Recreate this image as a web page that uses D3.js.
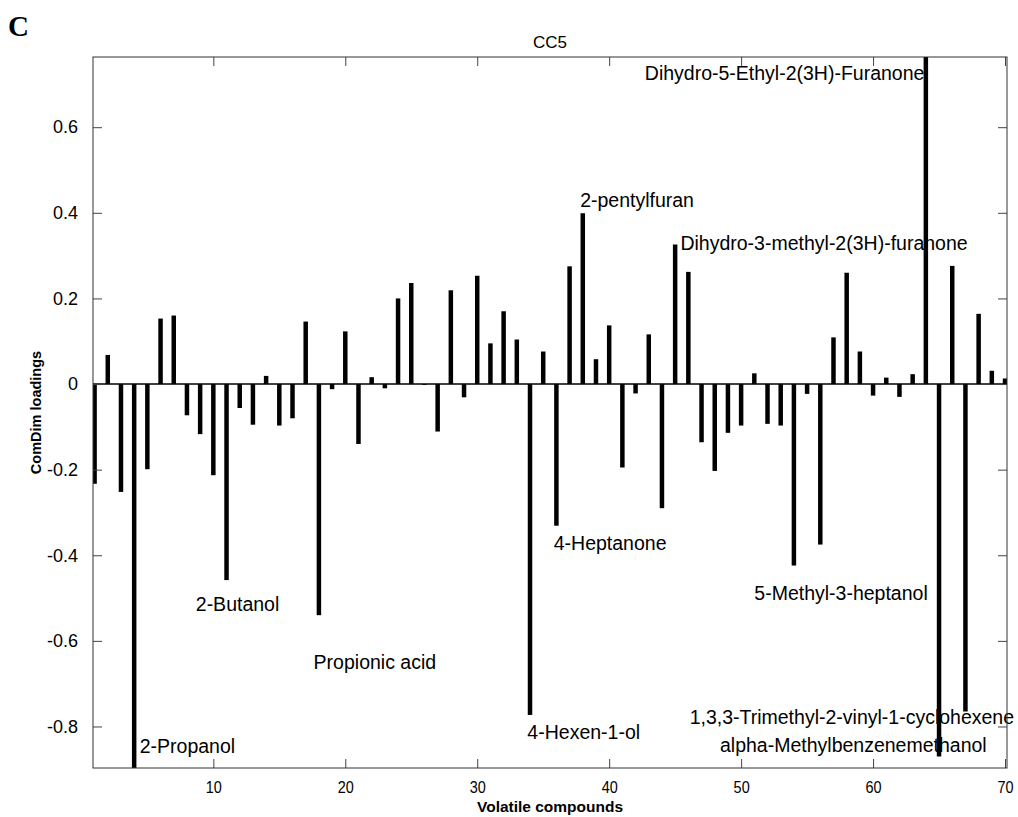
<!DOCTYPE html>
<html><head><meta charset="utf-8">
<script src="https://cdn.jsdelivr.net/npm/d3@7"></script>
<style>
html,body{margin:0;padding:0;background:#fff;}
svg{display:block;}
text{font-family:"Liberation Sans",Arial,Helvetica,sans-serif;fill:#000;}
</style></head>
<body>
<svg id="chart" width="1018" height="817"></svg>
<script>
// ---- data ----
const compoundIndex = d3.range(1, 71);
const loadings = [
  -0.233, 0.068, -0.252, -0.897, -0.199, 0.153, 0.160, -0.073, -0.117, -0.213,
  -0.458, -0.056, -0.095, 0.019, -0.097, -0.080, 0.146, -0.540, -0.012, 0.123,
  -0.140, 0.016, -0.010, 0.200, 0.236, -0.002, -0.111, 0.219, -0.031, 0.253,
  0.095, 0.170, 0.104, -0.773, 0.076, -0.331, 0.275, 0.399, 0.058, 0.137,
  -0.195, -0.022, 0.116, -0.290, 0.326, 0.262, -0.136, -0.203, -0.114, -0.097,
  0.025, -0.093, -0.097, -0.424, -0.023, -0.375, 0.109, 0.260, 0.076, -0.027,
  0.015, -0.030, 0.023, 0.764, -0.870, 0.276, -0.765, 0.164, 0.031, 0.013
];
const xTicks = [10, 20, 30, 40, 50, 60, 70];
const yTicks = [-0.8, -0.6, -0.4, -0.2, 0, 0.2, 0.4, 0.6];
const yTickLabels = ["-0.8", "-0.6", "-0.4", "-0.2", "0", "0.2", "0.4", "0.6"];
// annotation labels (text anchored at data coordinates)
const labelTexts = ["2-Propanol", "2-Butanol", "Propionic acid", "4-Hexen-1-ol", "4-Heptanone",
  "2-pentylfuran", "Dihydro-3-methyl-2(3H)-furanone", "Dihydro-5-Ethyl-2(3H)-Furanone",
  "5-Methyl-3-heptanol", "1,3,3-Trimethyl-2-vinyl-1-cyclohexene", "alpha-Methylbenzenemethanol"];
const labelX = [4.42, 8.67, 17.6, 33.8, 35.8, 37.8, 45.4, 42.7, 51.0, 46.1, 48.4];
const labelY = [-0.846, -0.514, -0.650, -0.813, -0.371, 0.430, 0.329, 0.727, -0.488, -0.778, -0.843];
const titleText = "CC5";
const xLabel = "Volatile compounds";
const yLabel = "ComDim  loadings";
const panelLabel = "C";

// ---- layout ----
const L = 93, R = 1007, T = 57, B = 768;
const svg = d3.select("#chart");
const x = d3.scaleLinear().domain([0.88, 70.15]).range([L, R]);
const y = d3.scaleLinear().domain([d3.min(loadings), d3.max(loadings)]).range([B, T]);

svg.append("defs").append("clipPath").attr("id", "clip")
  .append("rect").attr("x", L).attr("y", T).attr("width", R - L).attr("height", B - T);

// annotation text (under bars, not clipped)
svg.append("g").selectAll("text.ann").data(labelTexts).enter().append("text")
  .attr("class", "ann")
  .attr("x", (d, i) => x(labelX[i]))
  .attr("y", (d, i) => y(labelY[i]))
  .attr("dy", "0.35em")
  .style("font-size", "19.5px")
  .text(d => d);

const plot = svg.append("g").attr("clip-path", "url(#clip)");

// zero line
plot.append("line").attr("x1", L).attr("x2", R).attr("y1", y(0)).attr("y2", y(0))
  .attr("stroke", "#000").attr("stroke-width", 1.5);

// bars
const hw = 0.17;
plot.selectAll("rect.bar").data(loadings).enter().append("rect")
  .attr("class", "bar")
  .attr("x", (d, i) => x(compoundIndex[i] - hw))
  .attr("width", (d, i) => x(compoundIndex[i] + hw) - x(compoundIndex[i] - hw))
  .attr("y", d => Math.min(y(d), y(0)))
  .attr("height", d => Math.abs(y(d) - y(0)))
  .attr("fill", "#000");

// axes (ticks inward)
const tickLen = 9;
const axCol = "#444";
const gB = svg.append("g").attr("transform", `translate(0,${B})`)
  .call(d3.axisBottom(x).tickValues(xTicks).tickSizeInner(-tickLen).tickSizeOuter(0).tickPadding(tickLen + 4).tickFormat(d3.format("d")));
const gT = svg.append("g").attr("transform", `translate(0,${T})`)
  .call(d3.axisTop(x).tickValues(xTicks).tickSizeInner(-tickLen).tickSizeOuter(0).tickFormat(""));
const gL = svg.append("g").attr("transform", `translate(${L},0)`)
  .call(d3.axisLeft(y).tickValues(yTicks).tickSizeInner(-tickLen).tickSizeOuter(0).tickPadding(tickLen + 6)
    .tickFormat((d, i) => yTickLabels[i]));
const gR = svg.append("g").attr("transform", `translate(${R},0)`)
  .call(d3.axisRight(y).tickValues(yTicks).tickSizeInner(-tickLen).tickSizeOuter(0).tickFormat(""));
[gB, gT, gL, gR].forEach(g => {
  g.select(".domain").remove();
  g.selectAll(".tick line").attr("stroke", axCol);
});
gB.selectAll(".tick text").style("font-size", "17px").attr("fill", "#000")
  .attr("transform", "scale(0.85,1)");
gL.selectAll(".tick text").style("font-size", "18px").attr("fill", "#000");

// frame
svg.append("rect").attr("x", L).attr("y", T).attr("width", R - L).attr("height", B - T)
  .attr("fill", "none").attr("stroke", "#333").attr("stroke-width", 1);

// title and labels
svg.append("text").attr("x", (L + R) / 2).attr("y", 48).attr("text-anchor", "middle")
  .style("font-size", "17px").text(titleText);
svg.append("text").attr("x", (L + R) / 2).attr("y", 812).attr("text-anchor", "middle")
  .style("font-size", "15px").style("font-weight", "bold")
  .attr("textLength", 146).attr("lengthAdjust", "spacingAndGlyphs").text(xLabel);
svg.append("text").attr("transform", `translate(41,${(T + B) / 2}) rotate(-90)`)
  .attr("text-anchor", "middle").style("font-size", "14.5px").style("font-weight", "bold")
  .text(yLabel);
svg.append("text").attr("x", 8).attr("y", 36)
  .style("font-family", "'Liberation Serif','Times New Roman',serif")
  .style("font-size", "29px").style("font-weight", "bold").text(panelLabel);
</script>
</body></html>
